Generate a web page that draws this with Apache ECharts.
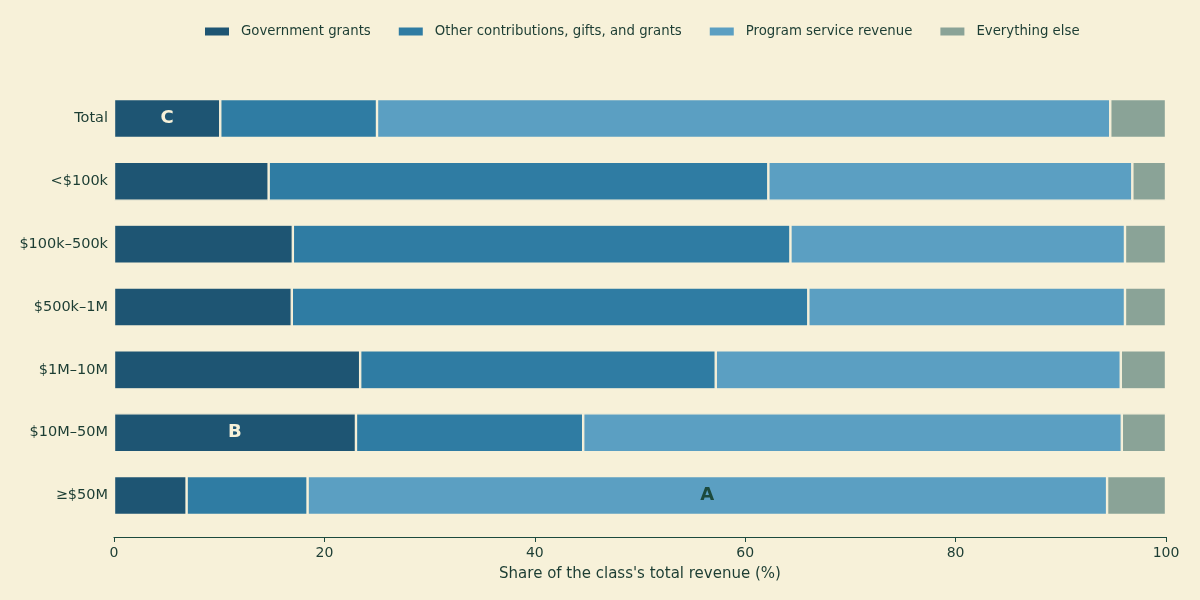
<!DOCTYPE html>
<html>
<head>
<meta charset="utf-8">
<script src="https://cdn.jsdelivr.net/npm/echarts@6/dist/echarts.min.js"></script>
<style>
  html, body { margin: 0; padding: 0; background: #f7f1d9; }
  #chart { width: 1200px; height: 600px; }
</style>
</head>
<body>
<div id="chart"></div>
<script>
// revenue classes, top to bottom
var categories = ['Total', '<$100k', '$100k–500k', '$500k–1M', '$1M–10M', '$10M–50M', '≥$50M'];

// share of class revenue (%)
var govGrants      = [10.1, 14.7, 17.0, 16.9, 23.4, 23.0, 6.9];
var otherContrib   = [14.9, 47.5, 47.3, 49.1, 33.8, 21.6, 11.5];
var programRevenue = [69.7, 34.6, 31.8, 30.1, 38.5, 51.2, 76.0];
var everythingElse = [5.3, 3.2, 3.9, 3.9, 4.3, 4.2, 5.6];

var seriesNames = ['Government grants', 'Other contributions, gifts, and grants', 'Program service revenue', 'Everything else'];
var xTicks = [0, 20, 40, 60, 80, 100];

// letter marks: [series index, category, letter]
var marks = [[0, 'Total', 'C'], [0, '$10M–50M', 'B'], [2, '≥$50M', 'A']];

var textColor = '#1c3d33';
var colors = ['#1e5573', '#2f7ca3', '#5b9fc2', '#8aa397'];

function buildData(values, idx) {
    var out = [];
    for (var i = 0; i < values.length; i++) {
        var item = { value: values[i] };
        for (var m = 0; m < marks.length; m++) {
            if (marks[m][0] === idx && marks[m][1] === categories[i]) {
                item.label = {
                    show: true,
                    formatter: marks[m][2],
                    color: idx === 2 ? '#1c4a3d' : '#f7f1d9',
                    fontSize: 18,
                    fontWeight: 'bold'
                };
            }
        }
        out.push(item);
    }
    return out;
}

var allValues = [govGrants, otherContrib, programRevenue, everythingElse];
var series = [];
for (var s = 0; s < allValues.length; s++) {
    series.push({
        name: seriesNames[s],
        type: 'bar',
        stack: 'total',
        barWidth: 39,
        itemStyle: { color: colors[s], borderColor: '#f7f1d9', borderWidth: 1.2 },
        label: { show: false, position: 'inside', fontFamily: 'DejaVu Sans' },
        data: buildData(allValues[s], s)
    });
}

var chart = echarts.init(document.getElementById('chart'));
chart.setOption({
    backgroundColor: '#f7f1d9',
    animation: false,
    textStyle: { fontFamily: 'DejaVu Sans', color: textColor },
    legend: {
        top: 20,
        left: 198,
        icon: 'rect',
        itemWidth: 26,
        itemHeight: 10,
        itemGap: 26,
        textStyle: { fontSize: 13.3, color: textColor, padding: [0, 0, 0, 6] },
        data: seriesNames
    },
    grid: { left: 114, right: 34, top: 87, bottom: 73 },
    xAxis: {
        type: 'value',
        min: 0,
        max: 100,
        interval: 20,
        offset: 10,
        name: "Share of the class's total revenue (%)",
        nameLocation: 'middle',
        nameGap: 30,
        nameTextStyle: { fontSize: 15, color: textColor },
        axisLine: { show: true, lineStyle: { color: '#1c4a3d', width: 1.2 } },
        axisTick: { show: true, length: 5, lineStyle: { color: '#1c4a3d' } },
        axisLabel: {
            fontSize: 14, color: textColor, margin: 9,
            formatter: function (v) { return xTicks.indexOf(v) >= 0 ? String(v) : ''; }
        },
        splitLine: { show: false }
    },
    yAxis: {
        type: 'category',
        inverse: true,
        data: categories,
        axisLine: { show: false },
        axisTick: { show: false },
        axisLabel: { fontSize: 14.5, color: textColor, margin: 6 }
    },
    series: series
});
</script>
</body>
</html>
